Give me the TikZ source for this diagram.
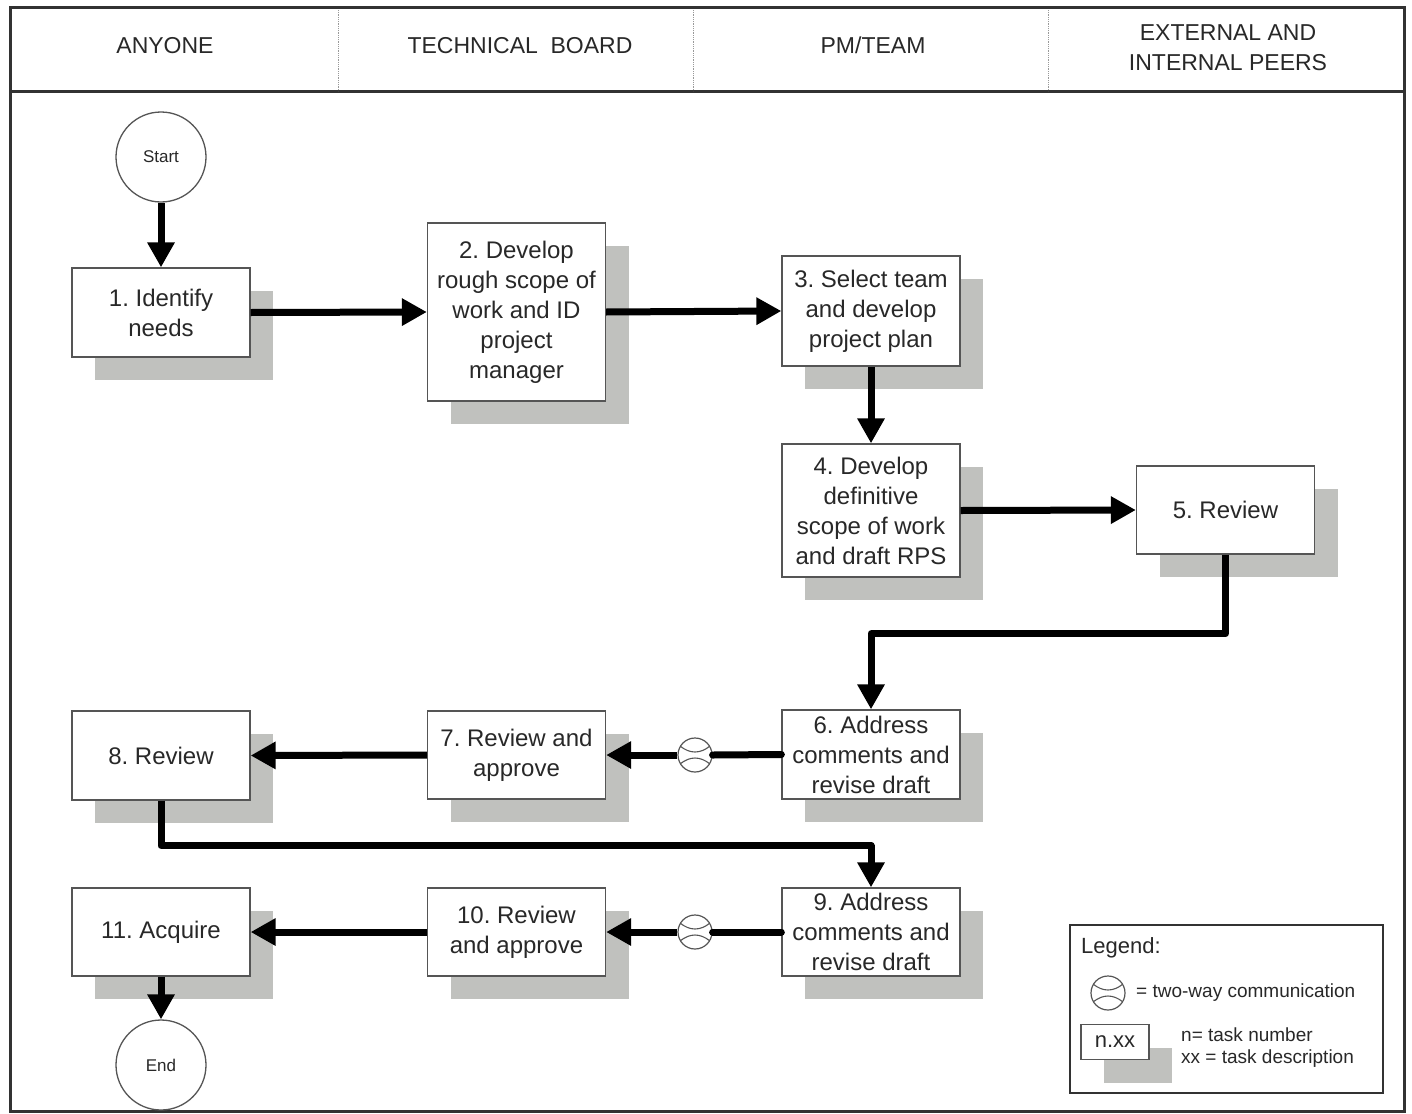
\documentclass[tikz,border=0pt]{standalone}
\usepackage{fontspec}
\setmainfont{Liberation Sans}
\usetikzlibrary{arrows.meta,shadows}
\frenchspacing
\definecolor{txt}{RGB}{40,40,40}
\definecolor{edge}{RGB}{85,85,85}
\definecolor{shade}{RGB}{192,193,190}
\definecolor{frame}{RGB}{50,50,50}
\tikzset{
  task/.style={draw=edge, line width=1.3pt, fill=white, minimum width=178pt, align=center,
    inner sep=0pt, text=txt, font=\fontsize{24}{30}\selectfont,
    drop shadow={shadow xshift=23pt, shadow yshift=-23pt, fill=shade, opacity=1}},
  terminal/.style={circle, draw=edge, line width=1.3pt, fill=white, minimum size=90pt, inner sep=0pt,
    text=txt, font=\fontsize{17}{20}\selectfont},
  flow/.style={line width=7pt, black, -{Triangle[width=26pt,length=25pt]}, line join=round},
  link/.style={line width=7pt, black, line cap=round},
  hdr/.style={text=txt, font=\fontsize{23}{30}\selectfont, align=center},
  lane/.style={edge!60, line width=0.8pt, densely dotted},
  commsym/.style={circle, draw=edge, line width=1.2pt, fill=white, minimum size=34pt, inner sep=0pt,
    path picture={
      \draw[edge, line width=1.1pt] ([shift={(-15pt,9pt)}]path picture bounding box.center)
        .. controls ([shift={(-5pt,1pt)}]path picture bounding box.center) and ([shift={(5pt,1pt)}]path picture bounding box.center)
        .. ([shift={(15pt,9pt)}]path picture bounding box.center);
      \draw[edge, line width=1.1pt] ([shift={(-15pt,-9pt)}]path picture bounding box.center)
        .. controls ([shift={(-5pt,-1pt)}]path picture bounding box.center) and ([shift={(5pt,-1pt)}]path picture bounding box.center)
        .. ([shift={(15pt,-9pt)}]path picture bounding box.center);
    }},
  legtext/.style={text=txt, font=\fontsize{19}{24}\selectfont, anchor=west, inner sep=0pt}
}
\begin{document}
\begin{tikzpicture}[x=1pt,y=-1pt]
\useasboundingbox (0,0) rectangle (1412,1113);
\fill[white] (0,0) rectangle (1412,1113);
% frame and header
\draw[frame, line width=3pt] (10,8) rectangle (1404,1111);
\draw[frame, line width=3pt] (10,92) -- (1404,92);
\draw[lane] (338,10) -- (338,91);
\draw[lane] (693,10) -- (693,91);
\draw[lane] (1048,10) -- (1048,91);
\node[hdr] (h1) at (165,46) {ANYONE};
\node[hdr] (h2) at (520,46) {TECHNICAL\ \ BOARD};
\node[hdr] (h3) at (873,45) {PM/TEAM};
\node[hdr] (h4) at (1228,48) {EXTERNAL AND\\INTERNAL PEERS};
% terminals
\node[terminal] (start) at (161,157) {Start};
\node[terminal] (end) at (161,1065) {End};
% tasks
\node[task, minimum height=89pt] (n1) at (161,312.5) {1. Identify\\needs};
\node[task, minimum height=178pt] (n2) at (516.5,312) {2. Develop\\rough scope of\\work and ID\\project\\manager};
\node[task, minimum height=110pt] (n3) at (871,311) {3. Select team\\and develop\\project plan};
\node[task, minimum height=133pt] (n4) at (871,510.5) {4. Develop\\definitive\\scope of work\\and draft RPS};
\node[task, minimum height=88pt] (n5) at (1225.5,510) {5. Review};
\node[task, minimum height=89pt] (n6) at (871,754.5) {6. Address\\comments and\\revise draft};
\node[task, minimum height=88pt] (n7) at (516.5,755) {7. Review and\\approve};
\node[task, minimum height=89pt] (n8) at (161,755.5) {8. Review};
\node[task, minimum height=88pt] (n9) at (871,932) {9. Address\\comments and\\revise draft};
\node[task, minimum height=88pt] (n10) at (516.5,932) {10. Review\\and approve};
\node[task, minimum height=88pt] (n11) at (161,932) {11. Acquire};
% communication symbols
\node[commsym] (c1) at (695,755) {};
\node[commsym] (c2) at (695,932) {};
% connectors
\draw[flow] (start) -- (n1);
\draw[flow] (n1.east) -- (n2.west);
\draw[flow] (n2.east) -- (n3.west);
\draw[flow] (n3) -- (n4);
\draw[flow] (n4.east) -- (n5.west);
\draw[flow] (n5.south) -- ++(0,79) -| (n6.north);
\draw[link] (n6.west) -- (c1.east);
\draw[flow] (c1.west) -- (n7.east);
\draw[flow] (n7.west) -- (n8.east);
\draw[flow] (n8.south) -- ++(0,45) -| (n9.north);
\draw[link] (n9.west) -- (c2.east);
\draw[flow] (c2.west) -- (n10.east);
\draw[flow] (n10.west) -- (n11.east);
\draw[flow] (n11) -- (end);
% legend
\draw[frame, line width=2pt] (1070,925) rectangle (1383,1093);
\node[text=txt, font=\fontsize{22}{26}\selectfont, anchor=west, inner sep=0pt] (lg) at (1081,948) {Legend:};
\node[commsym] (lc) at (1108,993) {};
\node[legtext] (lct) at (1136,993) {= two-way communication};
\node[task, minimum width=68pt, minimum height=35pt, line width=1.2pt, font=\fontsize{22}{26}\selectfont] (lbox) at (1115,1042) {n.xx};
\node[legtext] (lt1) at (1181,1035) {n= task number};
\node[legtext] (lt2) at (1181,1059) {xx = task description};
\end{tikzpicture}
\end{document}
